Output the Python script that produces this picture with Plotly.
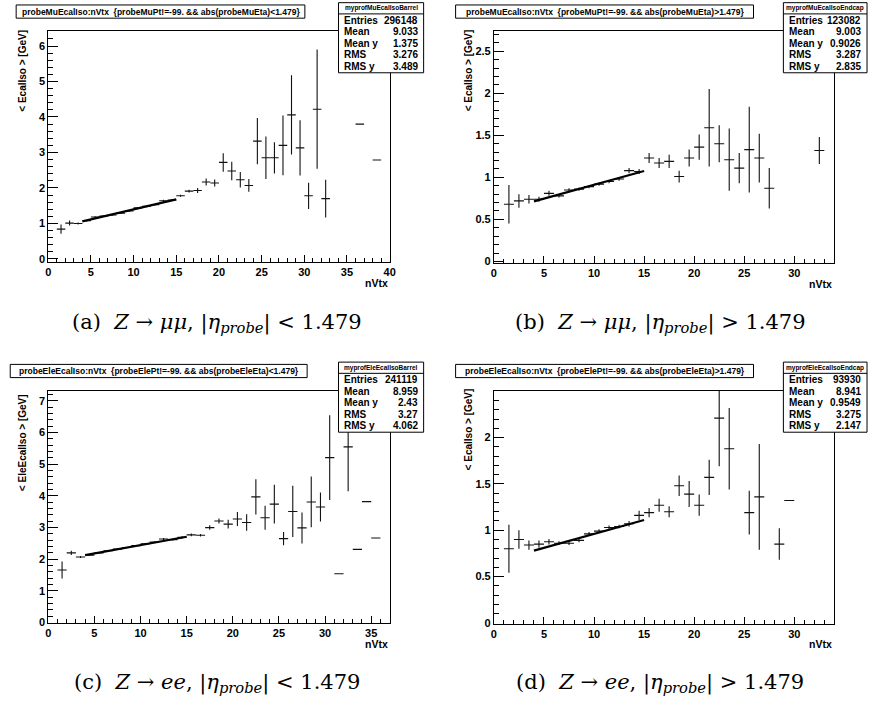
import plotly.graph_objects as go

W, H = 875, 706

# ---------------- data ----------------
x_a = [1.5, 2.5, 3.5, 4.5, 5.5, 6.5, 7.5, 8.5, 9.5, 10.5, 11.5, 12.5, 13.5, 14.5, 15.5, 16.5,
       17.5, 18.5, 19.5, 20.5, 21.5, 22.5, 23.5, 24.5, 25.5, 26.5, 27.5, 28.5, 29.5, 30.5, 31.5,
       32.5, 36.5, 38.5]
y_a = [0.84, 1.01, 1.00, 1.08, 1.18, 1.21, 1.24, 1.29, 1.35, 1.44, 1.48, 1.53, 1.64, 1.66, 1.78,
       1.91, 1.93, 2.17, 2.14, 2.72, 2.48, 2.23, 2.07, 3.32, 2.85, 2.85, 3.20, 4.06, 3.13, 1.78,
       4.22, 1.70, 3.80, 2.79]
e_a = [0.13, 0.07, 0.03, 0.02, 0.02, 0.02, 0.02, 0.02, 0.02, 0.02, 0.02, 0.02, 0.03, 0.03, 0.03,
       0.04, 0.07, 0.10, 0.10, 0.26, 0.26, 0.22, 0.18, 0.65, 0.60, 0.44, 0.84, 1.12, 0.78, 0.37,
       1.68, 0.53, 0.0, 0.0]
fit_a_x = [4, 15]
fit_a_y = [1.06, 1.68]

x_b = [1.5, 2.5, 3.5, 4.5, 5.5, 6.5, 7.5, 8.5, 9.5, 10.5, 11.5, 12.5, 13.5, 14.5, 15.5, 16.5,
       17.5, 18.5, 19.5, 20.5, 21.5, 22.5, 23.5, 24.5, 25.5, 26.5, 27.5, 32.5]
y_b = [0.68, 0.72, 0.74, 0.74, 0.81, 0.78, 0.85, 0.86, 0.89, 0.92, 0.95, 0.98, 1.08, 1.07, 1.23,
       1.17, 1.19, 1.01, 1.23, 1.36, 1.59, 1.40, 1.21, 1.11, 1.33, 1.23, 0.87, 1.32]
e_b = [0.23, 0.08, 0.05, 0.03, 0.03, 0.02, 0.02, 0.02, 0.02, 0.02, 0.02, 0.02, 0.03, 0.03, 0.06,
       0.06, 0.08, 0.07, 0.10, 0.15, 0.46, 0.22, 0.37, 0.18, 0.51, 0.29, 0.24, 0.16]
fit_b_x = [4, 15]
fit_b_y = [0.715, 1.075]

x_c = [1.5, 2.5, 3.5, 4.5, 5.5, 6.5, 7.5, 8.5, 9.5, 10.5, 11.5, 12.5, 13.5, 14.5, 15.5, 16.5,
       17.5, 18.5, 19.5, 20.5, 21.5, 22.5, 23.5, 24.5, 25.5, 26.5, 27.5, 28.5, 29.5, 30.5, 31.5,
       32.5, 33.5, 34.5, 35.5]
y_c = [1.66, 2.20, 2.07, 2.13, 2.20, 2.27, 2.32, 2.37, 2.43, 2.49, 2.54, 2.64, 2.62, 2.69, 2.77,
       2.76, 3.00, 3.21, 3.11, 3.27, 3.16, 3.97, 3.31, 3.74, 2.65, 3.51, 2.99, 3.81, 3.65, 5.21,
       1.54, 5.55, 2.31, 3.82, 2.67]
e_c = [0.27, 0.07, 0.03, 0.03, 0.02, 0.02, 0.02, 0.02, 0.02, 0.02, 0.02, 0.03, 0.03, 0.04, 0.04,
       0.04, 0.07, 0.08, 0.14, 0.22, 0.26, 0.56, 0.38, 0.61, 0.21, 0.81, 0.49, 0.80, 0.46, 1.34,
       0.0, 1.40, 0.0, 0.0, 0.0]
fit_c_x = [4, 15]
fit_c_y = [2.13, 2.71]

x_d = [1.5, 2.5, 3.5, 4.5, 5.5, 6.5, 7.5, 8.5, 9.5, 10.5, 11.5, 12.5, 13.5, 14.5, 15.5, 16.5,
       17.5, 18.5, 19.5, 20.5, 21.5, 22.5, 23.5, 25.5, 26.5, 28.5, 29.5]
y_d = [0.80, 0.90, 0.84, 0.85, 0.875, 0.86, 0.86, 0.89, 0.96, 0.99, 1.03, 1.04, 1.07, 1.16, 1.19,
       1.27, 1.20, 1.48, 1.39, 1.27, 1.57, 2.21, 1.88, 1.19, 1.36, 0.85, 1.32]
e_d = [0.26, 0.10, 0.05, 0.04, 0.03, 0.02, 0.02, 0.02, 0.02, 0.02, 0.02, 0.02, 0.03, 0.05, 0.05,
       0.07, 0.06, 0.11, 0.14, 0.115, 0.19, 0.52, 0.44, 0.235, 0.57, 0.17, 0.0]
fit_d_x = [4, 15]
fit_d_y = [0.78, 1.11]

titles = [
    "probeMuEcalIso:nVtx  {probeMuPt!=-99. &amp;&amp; abs(probeMuEta)&lt;1.479}",
    "probeMuEcalIso:nVtx  {probeMuPt!=-99. &amp;&amp; abs(probeMuEta)&gt;1.479}",
    "probeEleEcalIso:nVtx  {probeElePt!=-99. &amp;&amp; abs(probeEleEta)&lt;1.479}",
    "probeEleEcalIso:nVtx  {probeElePt!=-99. &amp;&amp; abs(probeEleEta)&gt;1.479}",
]
stat_names = ["myprofMuEcalIsoBarrel", "myprofMuEcalIsoEndcap",
              "myprofEleEcalIsoBarrel", "myprofEleEcalIsoEndcap"]
stat_labels = ["Entries", "Mean", "Mean y", "RMS", "RMS y"]
stat_vals = [
    ["296148", "9.033", "1.375", "3.276", "3.489"],
    ["123082", "9.003", "0.9026", "3.287", "2.835"],
    ["241119", "8.959", "2.43", "3.27", "4.062"],
    ["93930", "8.941", "0.9549", "3.275", "2.147"],
]
ytitles = ["&lt; EcalIso &gt; [GeV]", "&lt; EcalIso &gt; [GeV]",
           "&lt; EleEcalIso &gt; [GeV]", "&lt; EcalIso &gt; [GeV]"]
captions = [
    "(a)&nbsp; <i>Z</i> → <i>μμ</i>, |<i>η</i><sub><i>probe</i></sub>| &lt; 1.479",
    "(b)&nbsp; <i>Z</i> → <i>μμ</i>, |<i>η</i><sub><i>probe</i></sub>| &gt; 1.479",
    "(c)&nbsp; <i>Z</i> → <i>ee</i>, |<i>η</i><sub><i>probe</i></sub>| &lt; 1.479",
    "(d)&nbsp; <i>Z</i> → <i>ee</i>, |<i>η</i><sub><i>probe</i></sub>| &gt; 1.479",
]

# ---------------- layout geometry (pixels) ----------------
frames = [  # left, right, top, bottom
    (45.7, 390.7, 31.7, 264.0),
    (496.0, 840.0, 31.7, 265.0),
    (45.7, 390.7, 393.3, 627.5),
    (496.0, 840.0, 393.3, 628.0),
]
xranges = [[0, 40], [0, 34], [0, 37], [0, 34]]
yranges = [[-0.09, 6.41], [-0.02, 2.735], [-0.016, 7.33], [-0.0075, 2.508]]
ydticks = [1, 0.5, 1, 0.5]
yminor = [0.2, 0.1, 0.2, 0.1]
ytickvals = [None, [0, 0.5, 1, 1.5, 2, 2.5], None, [0, 0.5, 1, 1.5, 2]]
ytitle_len = [80, 80, 107, 80]

series = [(x_a, y_a, e_a, fit_a_x, fit_a_y), (x_b, y_b, e_b, fit_b_x, fit_b_y),
          (x_c, y_c, e_c, fit_c_x, fit_c_y), (x_d, y_d, e_d, fit_d_x, fit_d_y)]


def px(x):
    return x / W


def py(y):
    return 1 - y / H


SANS = "Liberation Sans, Arial, Helvetica, sans-serif"
SERIF = "DejaVu Serif, Liberation Serif, serif"

fig = go.Figure()
layout = dict(width=W, height=H, margin=dict(l=0, r=0, t=0, b=0),
              paper_bgcolor="white", plot_bgcolor="white", showlegend=False)
shapes, annotations = [], []

for i in range(4):
    n = "" if i == 0 else str(i + 1)
    xs, ys, es, fx, fy = series[i]
    fig.add_trace(go.Scatter(
        x=xs, y=ys, mode="markers", marker=dict(size=0.1, color="black"),
        error_x=dict(type="constant", value=0.5, width=0, thickness=1.1, color="#111"),
        error_y=dict(type="data", array=es, width=0, thickness=1.1, color="#111"),
        xaxis="x" + n, yaxis="y" + n, hoverinfo="skip"))
    fig.add_trace(go.Scatter(
        x=fx, y=fy, mode="lines", line=dict(color="black", width=2.2),
        xaxis="x" + n, yaxis="y" + n, hoverinfo="skip"))

    L, R, T, B = frames[i]
    tickfont = dict(family=SANS, size=11, color="black", weight="bold")
    layout["xaxis" + n] = dict(
        domain=[px(L), px(R)], anchor="y" + n, range=xranges[i],
        tick0=0, dtick=5, ticks="inside", ticklen=7, tickwidth=1, tickcolor="black",
        minor=dict(dtick=1, ticks="inside", ticklen=4, tickwidth=1, tickcolor="black"),
        showline=True, mirror=True, linecolor="black", linewidth=1,
        showgrid=False, zeroline=False, tickfont=tickfont)
    ya = dict(
        domain=[py(B), py(T)], anchor="x" + n, range=yranges[i],
        tick0=0, dtick=ydticks[i], ticks="inside", ticklen=10, tickwidth=1, tickcolor="black",
        minor=dict(dtick=yminor[i], ticks="inside", ticklen=5, tickwidth=1, tickcolor="black"),
        showline=True, mirror=True, linecolor="black", linewidth=1,
        showgrid=False, zeroline=False, tickfont=tickfont)
    if ytickvals[i] is not None:
        ya["tickmode"] = "array"
        ya["tickvals"] = ytickvals[i]
        ya["ticktext"] = [("%g" % v) for v in ytickvals[i]]
    layout["yaxis" + n] = ya

    dx = 0 if i % 2 == 0 else 449.5
    dy = 0 if i < 2 else 362.0

    # title box
    tl, tr = (13.3, 305.0) if i % 2 == 0 else (457.3, 758.3)
    if i == 2:
        tl, tr = 7.3, 307.3
    tt, tb = 5.0 + dy, 18.3 + dy
    shapes.append(dict(type="rect", xref="paper", yref="paper",
                       x0=px(tl), x1=px(tr), y0=py(tb), y1=py(tt),
                       line=dict(color="black", width=1), fillcolor="white"))
    annotations.append(dict(xref="paper", yref="paper", x=px((tl + tr) / 2), y=py((tt + tb) / 2),
                            text=titles[i], showarrow=False, xanchor="center", yanchor="middle",
                            font=dict(family=SANS, size=8.5, color="black", weight="bold")))

    # stats box
    sl, sr = 339.0 + dx, min(425.0 + dx, 873.0)
    st, sb = 2.7 + dy, 73.3 + dy
    shapes.append(dict(type="rect", xref="paper", yref="paper",
                       x0=px(sl), x1=px(sr), y0=py(sb), y1=py(st),
                       line=dict(color="black", width=1), fillcolor="white"))
    shapes.append(dict(type="line", xref="paper", yref="paper",
                       x0=px(sl), x1=px(sr), y0=py(14.0 + dy), y1=py(14.0 + dy),
                       line=dict(color="black", width=1)))
    annotations.append(dict(xref="paper", yref="paper", x=px((sl + sr) / 2), y=py(8.4 + dy),
                            text=stat_names[i], showarrow=False, xanchor="center", yanchor="middle",
                            font=dict(family=SANS, size=6.5, color="black", weight="bold")))
    rows = [20.7, 32.2, 43.7, 55.2, 66.7]
    for lab, val, ry in zip(stat_labels, stat_vals[i], rows):
        annotations.append(dict(xref="paper", yref="paper", x=px(sl + 4), y=py(ry + dy),
                                text=lab, showarrow=False, xanchor="left", yanchor="middle",
                                font=dict(family=SANS, size=10, color="black", weight="bold")))
        annotations.append(dict(xref="paper", yref="paper", x=px(sr - 4), y=py(ry + dy),
                                text=val, showarrow=False, xanchor="right", yanchor="middle",
                                font=dict(family=SANS, size=10, color="black", weight="bold")))

    # axis titles
    annotations.append(dict(xref="paper", yref="paper", x=px(L - 26),
                            y=py(T - 1 + ytitle_len[i] / 2),
                            text=ytitles[i], showarrow=False, textangle=-90,
                            xanchor="center", yanchor="middle",
                            font=dict(family=SANS, size=10, color="black", weight="bold")))
    annotations.append(dict(xref="paper", yref="paper", x=px(R), y=py(B + 21),
                            text="nVtx", showarrow=False, xanchor="right", yanchor="middle",
                            font=dict(family=SANS, size=10.5, color="black", weight="bold")))

    # caption
    cx = 216 if i % 2 == 0 else 664
    cy = 325 if i < 2 else 688
    annotations.append(dict(xref="paper", yref="paper", x=px(cx), y=py(cy),
                            text=captions[i], showarrow=False, xanchor="center", yanchor="middle",
                            font=dict(family=SERIF, size=21, color="black")))

layout["shapes"] = shapes
layout["annotations"] = annotations
fig.update_layout(**layout)
fig.write_html("out.html", config={"displayModeBar": False},
               post_script="document.body.style.margin='0px';document.body.style.overflow='hidden';")
